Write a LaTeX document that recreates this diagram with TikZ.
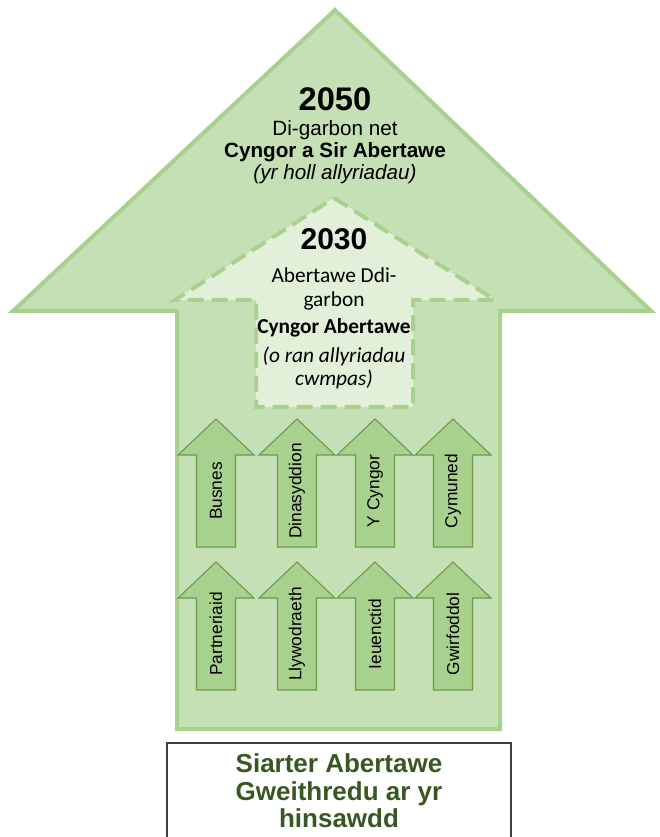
\documentclass[tikz,border=0pt]{standalone}
\usepackage{fontspec}
\setmainfont{Liberation Sans}
\newfontfamily\calibri{Carlito}
\definecolor{bigfill}{HTML}{C5E0B4}
\definecolor{bigline}{HTML}{A9D18E}
\definecolor{innerfill}{HTML}{E2F0D9}
\definecolor{smallfill}{HTML}{A9D18E}
\definecolor{smallline}{HTML}{6A9A4B}
\definecolor{charter}{HTML}{385723}
\definecolor{boxline}{HTML}{404040}
\begin{document}
\begin{tikzpicture}[x=0.75pt,y=-0.75pt,
    big arrow/.style={fill=bigfill,draw=bigline,line width=3pt},
    inner arrow/.style={fill=innerfill,draw=bigline,line width=3pt,dash pattern=on 12pt off 6pt},
    small arrow/.style={fill=smallfill,draw=smallline,line width=0.8pt},
    small label/.style={rotate=90,inner sep=0pt,font=\fontsize{13}{15}\selectfont},
    line/.style={anchor=base,inner sep=0pt}]
  \clip (0,0) rectangle (659,837);
  % large arrow (2050)
  \draw[big arrow] (335,10) -- (651,311) -- (500,311) -- (500,729)
    -- (177,729) -- (177,311) -- (13,311) -- cycle;
  % dashed arrow (2030)
  \draw[inner arrow] (334,198) -- (495,300) -- (413,300) -- (413,407)
    -- (256,407) -- (256,300) -- (175,300) -- cycle;
  % texts 2050
  \node[line,font=\bfseries\fontsize{24.5}{28}\selectfont] (y2050) at (335,111) {2050};
  \node[line,font=\fontsize{15.5}{18}\selectfont] (net) at (335,136) {Di-garbon net};
  \node[line,font=\bfseries\fontsize{15.5}{18}\selectfont] (county) at (335,158) {Cyngor a Sir Abertawe};
  \node[line,font=\itshape\fontsize{15.5}{18}\selectfont] (allem) at (335,180) {(yr holl allyriadau)};
  % texts 2030
  \node[line,font=\bfseries\fontsize{22.5}{26}\selectfont] (y2030) at (334,250) {2030};
  \node[line,font=\calibri\fontsize{16}{19}\selectfont] (zeroa) at (334,283) {Abertawe Ddi-};
  \node[line,font=\calibri\fontsize{16}{19}\selectfont] (zerob) at (334,306) {garbon};
  \node[line,font=\calibri\bfseries\fontsize{16}{19}\selectfont] (council) at (334,334) {Cyngor Abertawe};
  \node[line,font=\calibri\itshape\fontsize{16}{19}\selectfont] (scopea) at (334,362) {(o ran allyriadau};
  \node[line,font=\calibri\itshape\fontsize{16}{19}\selectfont] (scopeb) at (334,385) {cwmpas)};
  % small arrows
  \foreach \cx/\ytop/\name/\txt in {216/419/busnes/Busnes, 297/419/dinas/Dinasyddion,
      375/419/cyngor/Y Cyngor, 453/419/cymuned/Cymuned, 216/562/partner/Partneriaid,
      297/562/llyw/Llywodraeth, 375/562/ieuen/Ieuenctid, 453/562/gwirf/Gwirfoddol}{
    \draw[small arrow] (\cx,\ytop) -- ++(38,36) -- ++(-18.5,0) -- ++(0,92)
      -- ++(-39,0) -- ++(0,-92) -- ++(-18.5,0) -- cycle;
    \node[small label] (\name) at (\cx,\ytop+72) {\txt};
  }
  % charter box
  \draw[draw=boxline,line width=1pt,fill=white] (167,743) rectangle (511,860);
  \node[line,text=charter,font=\bfseries\fontsize{19.5}{22}\selectfont] (siarter) at (339,772) {Siarter Abertawe};
  \node[line,text=charter,font=\bfseries\fontsize{19.5}{22}\selectfont] (gweith) at (339,800) {Gweithredu ar yr};
  \node[line,text=charter,font=\bfseries\fontsize{19.5}{22}\selectfont] (hinsawdd) at (339,827) {hinsawdd};
\end{tikzpicture}
\end{document}
